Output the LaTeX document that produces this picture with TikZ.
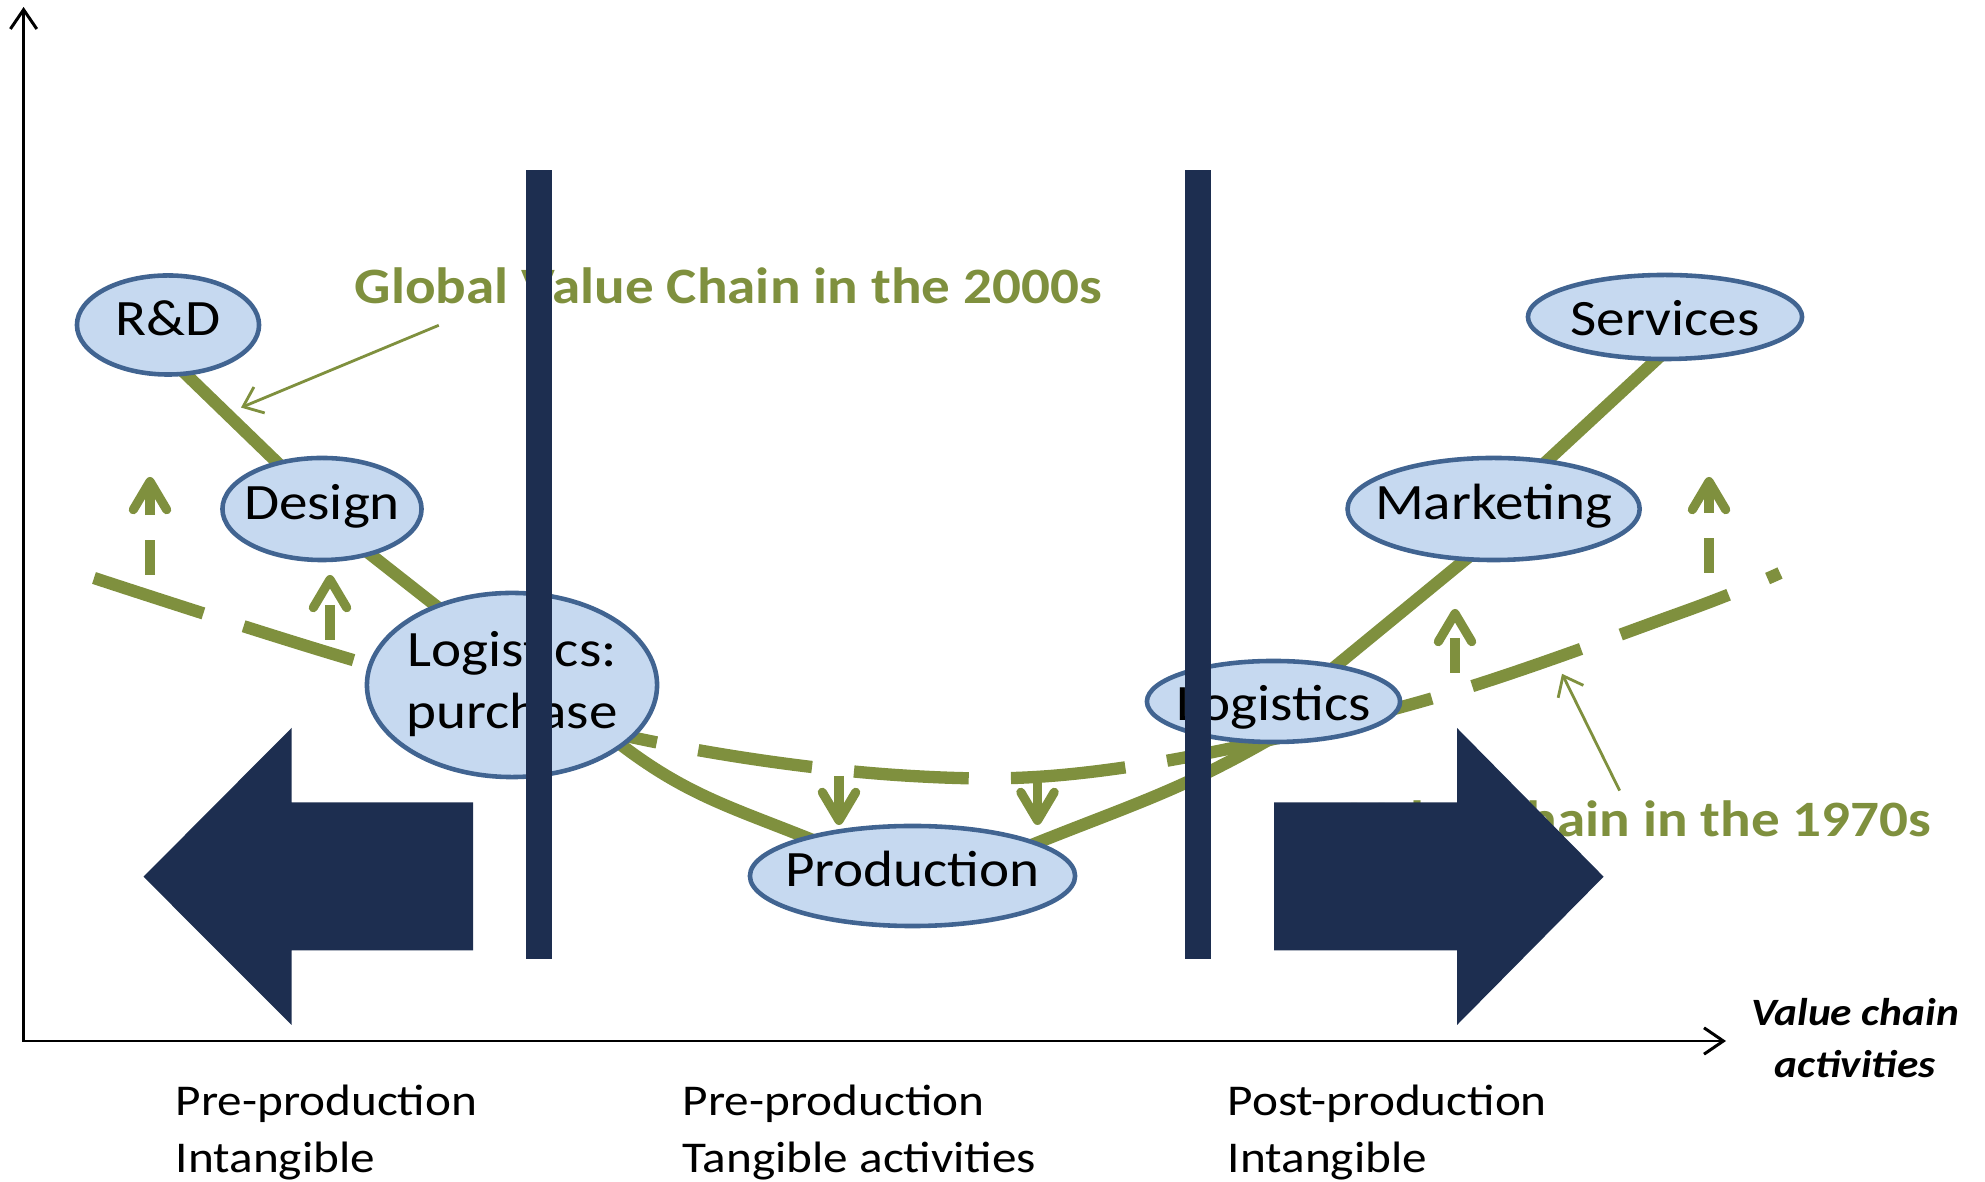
\documentclass[tikz,border=0pt]{standalone}
\usepackage{fontspec}
\setmainfont{Carlito}[FakeStretch=1.12]
\usetikzlibrary{arrows.meta,shapes.geometric}
\definecolor{gvc}{RGB}{127,144,62}
\definecolor{ellfill}{RGB}{198,217,240}
\definecolor{elldraw}{RGB}{65,100,145}
\definecolor{navy}{RGB}{29,46,80}
\pgfdeclarelayer{bg}
\pgfsetlayers{bg,main}
\newcommand{\ebox}[1]{\makebox[0pt]{#1}}
\begin{document}
\begin{tikzpicture}[x=0.01cm,y=0.01cm,
  ell/.style={ellipse, draw=elldraw, fill=ellfill, line width=1.3pt, inner sep=0pt,
    font=\fontsize{14.5}{17.6}\selectfont},
  ellone/.style={ell, text height=9.3pt, text depth=3.6pt},
  ellmid/.style={ell, text height=12pt, text depth=1.3pt},
  newchain/.style={gvc, line width=3.5pt},
  oldchain/.style={gvc, line width=3.5pt, dash pattern=on 32.7pt off 12pt},
  shiftarrow/.style={gvc, line width=2.6pt, dash pattern=on 10pt off 7pt,
    -{Straight Barb[length=8pt,width=9.5pt,round]}},
  pointer/.style={gvc, line width=0.8pt, -{Straight Barb[length=5pt,width=8pt]}},
  axisline/.style={black, line width=0.85pt,
    {Straight Barb[length=5.5pt,width=7.5pt]}-{Straight Barb[length=5.5pt,width=7.5pt]}},
  gvclabel/.style={gvc, font=\bfseries\fontsize{14.5}{17.6}\selectfont, inner sep=0pt},
  phaselabel/.style={font=\fontsize{12.5}{16.4}\selectfont, align=left, inner sep=0pt, anchor=base west},
]
\useasboundingbox (0,0) rectangle (1985,1182);

% ellipses
\node[ellone, minimum width=1.82cm, minimum height=0.99cm] (rd) at (168,857) {\ebox{R\&D}};
\node[ellone, minimum width=1.99cm, minimum height=1.02cm] (design) at (322,673) {\ebox{Design}};
\node[ell, minimum width=2.90cm, minimum height=1.84cm] (logp) at (512,497)
  {\ebox{\begin{tabular}{@{}c@{}}Logistics:\\purchase\end{tabular}}};
\node[ellone, minimum width=3.25cm, minimum height=1.00cm] (prod) at (912.5,306) {\ebox{Production}};
\node[ellmid, minimum width=2.53cm, minimum height=0.81cm] (logr) at (1273.5,480.5) {\ebox{Logistics}};
\node[ellone, minimum width=2.92cm, minimum height=1.02cm] (mkt) at (1493.6,673) {\ebox{Marketing}};
\node[ellmid, minimum width=2.74cm, minimum height=0.84cm] (svc) at (1665,865) {\ebox{Services}};

% curves beneath
\begin{pgfonlayer}{bg}
  \draw[oldchain] plot[smooth, tension=0.6] coordinates
    {(94,604) (353,522) (640,443) (912,406) (1128,415) (1416,479) (1680,569) (1780,609)};
  \draw[newchain, shorten <=-4pt, shorten >=-4pt] (rd.-69) -- (design.134);
  \draw[newchain, shorten <=-4pt, shorten >=-4pt] (design.-43) -- (logp.134);
  \draw[newchain, shorten <=-3pt, shorten >=-3pt] (logp.-29) to[out=-38, in=158] (prod.160);
  \draw[newchain, shorten <=-3pt, shorten >=-3pt] (prod.15) to[out=22, in=-150] (logr.-106);
  \draw[newchain, shorten <=-4pt, shorten >=-4pt] (logr.30) -- (mkt.-120);
  \draw[newchain, shorten <=-4pt, shorten >=-4pt] (mkt.42) -- (svc.-103);
\end{pgfonlayer}

% shift arrows
\coordinate (a1s) at (150,607);   \coordinate (a1e) at (150,705);
\coordinate (a2s) at (330,542);   \coordinate (a2e) at (330,607);
\coordinate (a3s) at (1455,509);  \coordinate (a3e) at (1455,573);
\coordinate (a4s) at (1709,609);  \coordinate (a4e) at (1709,705);
\coordinate (d1s) at (839,406);   \coordinate (d1e) at (839,357);
\coordinate (d2s) at (1037.5,402);\coordinate (d2e) at (1037.5,357);
\draw[shiftarrow] (a1s) -- (a1e);
\draw[shiftarrow] (a2s) -- (a2e);
\draw[shiftarrow] (a3s) -- (a3e);
\draw[shiftarrow] (a4s) -- (a4e);
\draw[shiftarrow] (d1s) -- (d1e);
\draw[shiftarrow] (d2s) -- (d2e);

% labels
\node[gvclabel, anchor=base west] (g2000) at (354,878) {Global Value Chain in the 2000s};
\node[gvclabel, anchor=base east] (g1970) at (1932,345.5) {Value Chain in the 1970s};
\coordinate (p2s) at (438.8,856.7); \coordinate (p2e) at (241,774.4);
\coordinate (p1s) at (1619.6,391.4); \coordinate (p1e) at (1562,508.2);
\draw[pointer] (p2s) -- (p2e);
\draw[pointer] (p1s) -- (p1e);

% divider bars
\fill[navy] (526,223) rectangle (552,1012);
\fill[navy] (1185,223) rectangle (1211,1012);

% big arrows
\fill[navy] (143.5,305.3) -- (291.5,454) -- (291.5,379.6) -- (473,379.6) -- (473,231.5)
  -- (291.5,231.5) -- (291.5,157) -- cycle;
\fill[navy] (1603.6,305.3) -- (1457,454) -- (1457,379.6) -- (1274,379.6) -- (1274,231.5)
  -- (1457,231.5) -- (1457,157) -- cycle;

% axes
\coordinate (origin) at (23.6,141);
\coordinate (ytop) at (23.6,1175);
\coordinate (xend) at (1726,141);
\draw[axisline] (ytop) -- (origin) -- (xend);
\node[font=\bfseries\itshape\fontsize{11}{14.7}\selectfont, align=center, inner sep=0pt, anchor=base]
  (vca) at (1855,104.4) {Value chain\\activities};

% phase labels
\node[phaselabel] (ph1) at (175,9) {Pre-production\\Intangible};
\node[phaselabel] (ph2) at (682,9) {Pre-production\\Tangible activities};
\node[phaselabel] (ph3) at (1227,9) {Post-production\\Intangible};
\end{tikzpicture}
\end{document}
